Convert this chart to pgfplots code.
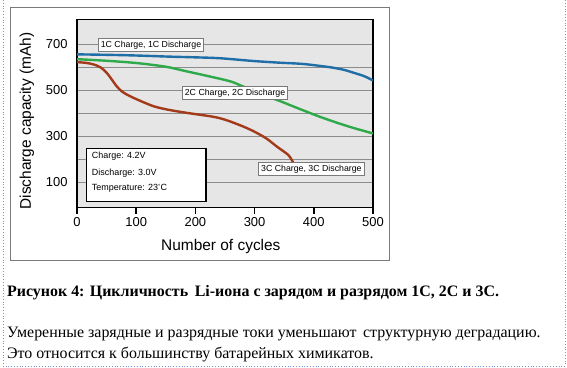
\documentclass[border=0pt]{standalone}
\usepackage{fontspec}
\setmainfont{Liberation Serif}
\newfontfamily\arial{Liberation Sans}
\usepackage{pgfplots}
\pgfplotsset{compat=1.18}
\definecolor{c1}{HTML}{1F6EA8}
\definecolor{c2}{HTML}{2FAA4B}
\definecolor{c3}{HTML}{A33A1A}
\definecolor{bg}{HTML}{E6E6E6}
\definecolor{gridc}{HTML}{8C8C8C}
\definecolor{dotc}{HTML}{6F93CC}
\definecolor{framec}{HTML}{7A7A7A}
\begin{document}
\begin{tikzpicture}
\path[use as bounding box] (0,0) rectangle (567bp,-368bp);
\draw[dotc, dotted, line width=0.8bp] (3bp,0) -- (3bp,-366bp) -- (565bp,-366bp) -- (565bp,0);
\draw[framec, line width=0.8bp] (10bp,-7bp) rectangle (389bp,-260bp);
\begin{axis}[at={(77bp,-207.5bp)}, anchor=south west, scale only axis,
  width=296bp, height=188bp,
  xmin=0, xmax=500, ymin=-11, ymax=809,
  axis background/.style={fill=bg},
  axis line style={black, line width=1.6bp},
  xtick={0,100,...,500}, xtick pos=bottom, tick align=outside, major tick length=6bp,
  x tick style={black, line width=1.6bp},
  ytick={100,200,...,700}, yticklabels={100,,300,,500,,700}, ytick pos=left,
  y tick style={draw=none},
  ymajorgrids, grid style={gridc, line width=0.9bp},
  tick label style={font=\arial\fontsize{13}{13}\selectfont},
  /pgf/number format/assume math mode=true,
  xlabel={Number of cycles}, ylabel={Discharge capacity (mAh)},
  label style={font=\arial\fontsize{15.5}{16}\selectfont},
  xlabel style={at={(axis description cs:0.486,-0.21)}, anchor=center},
  ylabel style={at={(axis description cs:-0.169,0.46)}, anchor=center},
  every axis plot/.append style={line width=2.4bp, smooth, tension=0.5},
]
\addplot[c1] coordinates {(0,657) (50,655) (100,652) (157,647) (200,644) (242,640) (298,628) (340,621) (382,615) (427,601) (450,590) (467,577) (485,562) (500,543)};
\addplot[c2] coordinates {(0,636) (50,629) (101,619) (150,603) (185,583) (220,563) (258,540) (275,523) (300,496) (326,469) (343,453) (375,420) (410,385) (440,358) (467,336) (500,312)};
\addplot[c3] coordinates {(0,623) (15,620) (28,613) (40,600) (50,577) (58,550) (67,518) (75,497) (84,482) (100,462) (129,431) (155,415) (185,402) (225,387) (242,378) (258,365) (280,343) (298,322) (320,290) (337,256) (350,232) (357,218) (362,200) (365,185)};
\node[draw=framec, line width=0.6bp, fill=white, inner sep=2.5bp, minimum height=12.4bp, font=\arial\fontsize{8.8}{9}\selectfont] at (axis cs:125,697) {1C Charge, 1C Discharge};
\node[draw=framec, line width=0.6bp, fill=white, inner sep=2.5bp, minimum height=12.4bp, font=\arial\fontsize{8.8}{9}\selectfont] at (axis cs:267,489) {2C Charge, 2C Discharge};
\node[draw=framec, line width=0.6bp, fill=white, inner sep=2.5bp, minimum height=12.4bp, font=\arial\fontsize{8.8}{9}\selectfont] at (axis cs:396,157) {3C Charge, 3C Discharge};
\draw[black, line width=1.4bp, fill=white] (axis cs:16,247) rectangle (axis cs:218,14);
\node[anchor=west, inner sep=0pt, font=\arial\fontsize{9}{10}\selectfont] at (axis cs:25,211) {Charge: 4.2V};
\node[anchor=west, inner sep=0pt, font=\arial\fontsize{9}{10}\selectfont] at (axis cs:25,139) {Discharge: 3.0V};
\node[anchor=west, inner sep=0pt, font=\arial\fontsize{9}{10}\selectfont] at (axis cs:25,73) {Temperature: 23\raisebox{0.5ex}{\fontsize{6}{6}\selectfont °}C};
\end{axis}
\node[anchor=base west, inner sep=0pt, font=\bfseries\fontsize{16}{18}\selectfont] at (7bp,-296bp) {Рисунок 4: Цикличность\, Li-иона с зарядом и разрядом 1C, 2C и 3C.};
\node[anchor=base west, inner sep=0pt, font=\fontsize{16}{18}\selectfont] at (7bp,-337bp) {Умеренные зарядные и разрядные токи уменьшают\, структурную деградацию.};
\node[anchor=base west, inner sep=0pt, font=\fontsize{16}{18}\selectfont] at (7bp,-358bp) {Это относится к большинству батарейных химикатов.};
\end{tikzpicture}
\end{document}
